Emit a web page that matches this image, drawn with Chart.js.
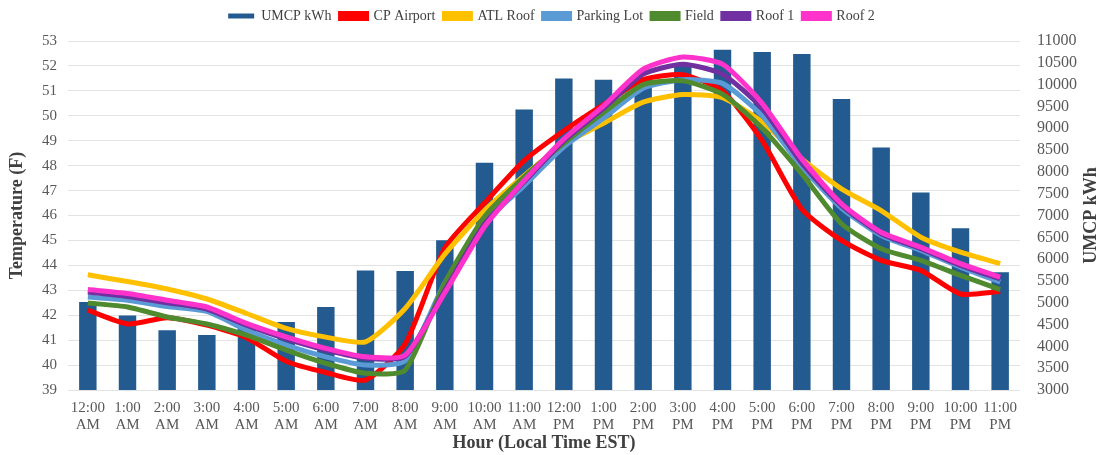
<!DOCTYPE html>
<html>
<head>
<meta charset="utf-8">
<script src="https://cdn.jsdelivr.net/npm/chart.js@4/dist/chart.umd.min.js"></script>
<style>
  body { margin: 0; background: #fff; }
  #wrap { width: 1103px; height: 455px; }
</style>
</head>
<body>
<div id="wrap"><canvas id="Chart" width="1103" height="455"></canvas></div>
<script>
// hours of the day (x categories)
const hours = ['12:00 AM', '1:00 AM', '2:00 AM', '3:00 AM', '4:00 AM', '5:00 AM', '6:00 AM', '7:00 AM',
  '8:00 AM', '9:00 AM', '10:00 AM', '11:00 AM', '12:00 PM', '1:00 PM', '2:00 PM', '3:00 PM',
  '4:00 PM', '5:00 PM', '6:00 PM', '7:00 PM', '8:00 PM', '9:00 PM', '10:00 PM', '11:00 PM'];

// campus load (right axis)
const umcpKwh = [5020, 4710, 4370, 4260, 4430, 4560, 4900, 5740, 5730, 6430, 8210, 9430,
  10140, 10110, 10150, 10450, 10800, 10750, 10700, 9670, 8560, 7530, 6710, 5700];

// temperatures (left axis)
const cpAirport = [42.2, 41.65, 41.9, 41.6, 41.1, 40.15, 39.7, 39.4, 40.85, 44.7, 46.5, 48.2,
  49.4, 50.45, 51.45, 51.65, 51.0, 49.0, 46.25, 45.0, 44.2, 43.8, 42.85, 42.95];
const atlRoof = [43.62, 43.35, 43.05, 42.65, 42.07, 41.47, 41.12, 40.93, 42.27, 44.45, 46.2, 47.6,
  48.85, 49.7, 50.55, 50.85, 50.73, 49.75, 48.27, 47.07, 46.2, 45.13, 44.53, 44.07];
const parkingLot = [42.73, 42.6, 42.35, 42.15, 41.4, 40.8, 40.33, 40.0, 40.17, 43.3, 45.7, 47.2,
  48.75, 49.9, 51.1, 51.45, 51.3, 50.0, 47.95, 46.3, 45.2, 44.6, 43.93, 43.33];
const field = [42.49, 42.33, 41.93, 41.65, 41.2, 40.6, 40.07, 39.67, 39.8, 43.3, 45.95, 47.55,
  48.9, 50.13, 51.25, 51.4, 50.87, 49.5, 47.67, 45.67, 44.67, 44.2, 43.6, 43.03];
const roof1 = [42.93, 42.75, 42.5, 42.25, 41.6, 41.05, 40.6, 40.27, 40.35, 43.0, 45.65, 47.35,
  49.0, 50.3, 51.67, 52.07, 51.67, 50.3, 48.1, 46.4, 45.27, 44.67, 44.0, 43.45];
const roof2 = [43.03, 42.87, 42.6, 42.33, 41.67, 41.13, 40.67, 40.33, 40.4, 42.9, 45.55, 47.4,
  49.07, 50.4, 51.87, 52.36, 52.07, 50.5, 48.27, 46.47, 45.33, 44.73, 44.07, 43.53];

const serif = '"Liberation Serif", "Times New Roman", serif';

const lineSet = (label, data, color, order) => ({
  type: 'line',
  label: label,
  data: data,
  borderColor: color,
  backgroundColor: color,
  borderWidth: 5,
  pointRadius: 0,
  tension: 0.2,
  yAxisID: 'y',
  order: order,
});

// extra gap under the legend
const legendGap = {
  id: 'legendGap',
  beforeInit(chart) {
    const fit = chart.legend.fit;
    chart.legend.fit = function () {
      fit.bind(chart.legend)();
      this.height += 8;
    };
  }
};

// draws the right axis title reading bottom-to-top, like the left one
const rightTitle = {
  id: 'rightTitle',
  afterDraw(chart) {
    const s = chart.scales.y1;
    const ctx = chart.ctx;
    ctx.save();
    ctx.font = 'bold 18px ' + serif;
    ctx.fillStyle = '#404040';
    ctx.textAlign = 'center';
    ctx.textBaseline = 'middle';
    ctx.translate(s.right - 12, (s.top + s.bottom) / 2);
    ctx.rotate(-Math.PI / 2);
    ctx.fillText('UMCP kWh', 0, 0);
    ctx.restore();
  }
};

const ctx = document.getElementById('Chart').getContext('2d');
new Chart(ctx, {
  data: {
    labels: hours,
    datasets: [
      {
        type: 'bar',
        label: 'UMCP kWh',
        data: umcpKwh,
        backgroundColor: '#235A8F',
        borderWidth: 0,
        barPercentage: 0.44,
        categoryPercentage: 1,
        yAxisID: 'y1',
        order: 7,
      },
      lineSet('CP Airport', cpAirport, '#FF0000', 6),
      lineSet('ATL Roof', atlRoof, '#FFC000', 5),
      lineSet('Parking Lot', parkingLot, '#5B9BD5', 4),
      lineSet('Field', field, '#4F8A2F', 3),
      lineSet('Roof 1', roof1, '#7030A0', 2),
      lineSet('Roof 2', roof2, '#FF33CC', 1),
    ],
  },
  options: {
    responsive: false,
    animation: false,
    layout: { padding: { left: 0, right: 0, top: 0, bottom: 1 } },
    plugins: {
      legend: {
        position: 'top',
        labels: {
          sort: (a, b) => a.datasetIndex - b.datasetIndex,
          boxWidth: 26,
          boxHeight: 5,
          padding: 9,
          color: '#404040',
          font: { family: serif, size: 14 },
        },
      },
      tooltip: { enabled: false },
    },
    scales: {
      x: {
        grid: { display: false, drawTicks: false },
        border: { display: false },
        afterFit: (scale) => { scale.height = 64; },
        ticks: {
          color: '#595959',
          font: { family: serif, size: 15, lineHeight: 1.15 },
          maxRotation: 0,
          autoSkip: false,
          padding: 9,
          callback: function (v) { return hours[v].split(' '); },
        },
        title: {
          display: true,
          text: 'Hour (Local Time EST)',
          color: '#404040',
          font: { family: serif, size: 18, weight: 'bold' },
          padding: { top: 0, bottom: 0 },
        },
      },
      y: {
        position: 'left',
        min: 39,
        max: 53,
        afterFit: (scale) => { scale.width = 68; },
        ticks: { stepSize: 1, color: '#595959', font: { family: serif, size: 15 }, padding: 11 },
        grid: { color: '#E3E3E3', drawTicks: false },
        border: { display: false },
        title: {
          display: true,
          text: 'Temperature (F)',
          color: '#404040',
          font: { family: serif, size: 18, weight: 'bold' },
          padding: { top: 7, bottom: 2 },
        },
      },
      y1: {
        position: 'right',
        min: 3000,
        max: 11000,
        afterFit: (scale) => { scale.width = 83; },
        ticks: {
          stepSize: 500,
          autoSkip: false,
          color: '#595959',
          font: { family: serif, size: 16 },
          padding: 17,
          callback: (v) => String(v),
        },
        grid: { display: false, drawTicks: false },
        border: { display: false },
        title: {
          display: true,
          text: 'UMCP kWh',
          color: 'rgba(0,0,0,0)',
          font: { family: serif, size: 18, weight: 'bold' },
          padding: { top: 2, bottom: 3 },
        },
      },
    },
  },
  plugins: [legendGap, rightTitle],
});
</script>
</body>
</html>
